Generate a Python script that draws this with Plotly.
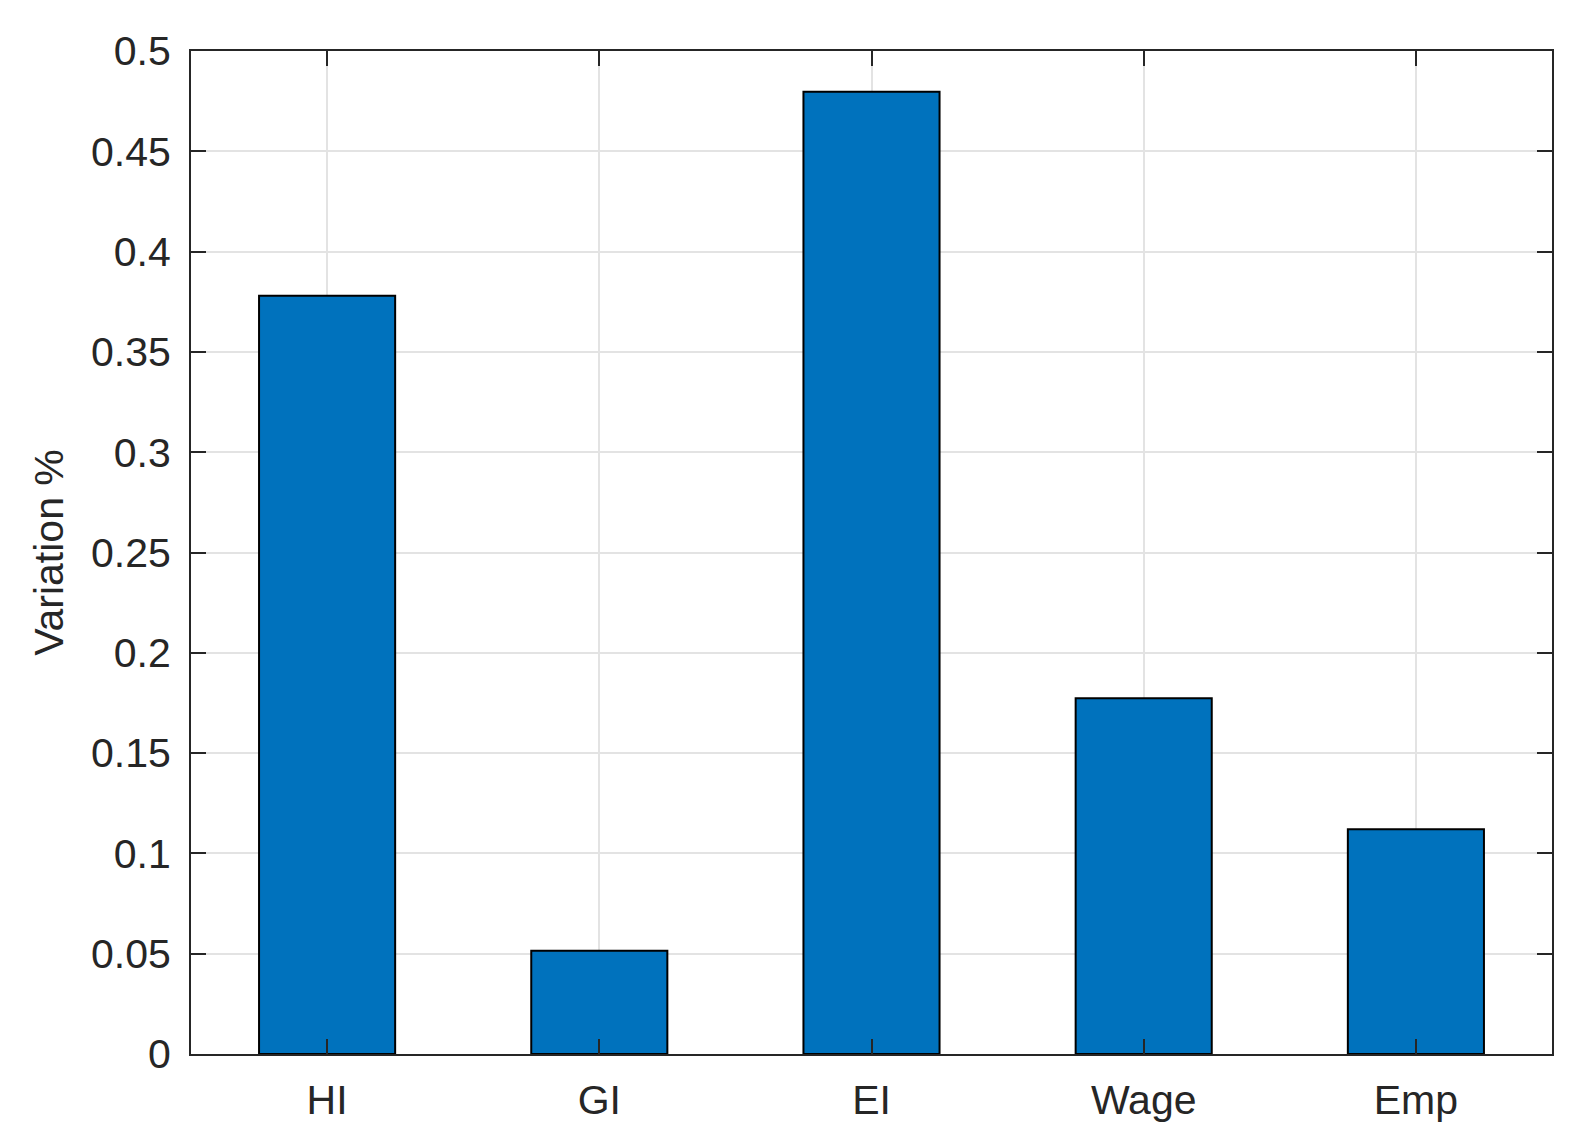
import plotly.graph_objects as go

# values
categories = ['HI', 'GI', 'EI', 'Wage', 'Emp']
variation = [0.378, 0.0515, 0.4797, 0.1773, 0.112]
y_ticks = [0, 0.05, 0.1, 0.15, 0.2, 0.25, 0.3, 0.35, 0.4, 0.45, 0.5]
y_tick_text = ['0', '0.05', '0.1', '0.15', '0.2', '0.25', '0.3', '0.35', '0.4', '0.45', '0.5']

font_family = 'Liberation Sans, Arial, sans-serif'
text_color = '#262626'

fig = go.Figure()
fig.add_trace(go.Bar(
    x=categories,
    y=variation,
    width=0.5,
    marker=dict(color='#0072BD', line=dict(color='black', width=2)),
))

fig.update_layout(
    width=1586,
    height=1146,
    margin=dict(l=183, r=42, t=43, b=100),
    plot_bgcolor='white',
    paper_bgcolor='white',
    showlegend=False,
    font=dict(family=font_family, size=41, color=text_color),
)

fig.update_xaxes(
    range=[-0.5, 4.5], automargin=False,
    showline=True, linecolor=text_color, linewidth=2, mirror='ticks',
    ticks='inside', ticklen=15, tickwidth=2, tickcolor=text_color,
    showgrid=True, gridcolor='#e3e3e3', gridwidth=2,
    tickfont=dict(size=41, color=text_color),
    ticklabelstandoff=9,
)
fig.update_yaxes(
    range=[0, 0.5], automargin=False,
    tickvals=y_ticks, ticktext=y_tick_text,
    showline=True, linecolor=text_color, linewidth=2, mirror='ticks',
    ticks='inside', ticklen=15, tickwidth=2, tickcolor=text_color,
    showgrid=True, gridcolor='#e3e3e3', gridwidth=2,
    zeroline=False,
    tickfont=dict(size=41, color=text_color),
    ticklabelstandoff=10,
    title=dict(text='Variation %', font=dict(size=41, color=text_color), standoff=15),
)

fig.write_html("out.html")
